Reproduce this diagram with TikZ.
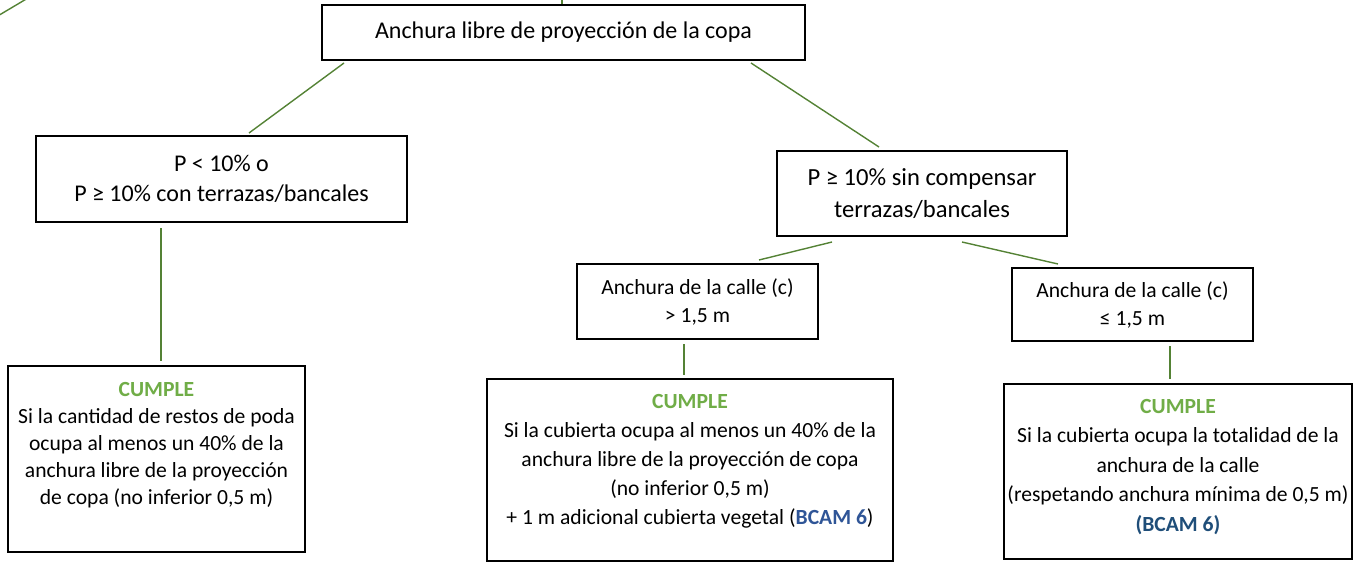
\documentclass[tikz,border=0pt]{standalone}
\usepackage{xcolor}
\usepackage{fontspec}
\setmainfont{Carlito}
\usetikzlibrary{calc}

\definecolor{ramaverde}{RGB}{84,130,53}
\definecolor{cumpleverde}{RGB}{112,173,71}
\definecolor{bcamazul}{RGB}{47,85,151}
\definecolor{bcamoscuro}{RGB}{31,78,121}

\newcommand{\cumple}{\textcolor{cumpleverde}{\textbf{CUMPLE}}}

\begin{document}
\begin{tikzpicture}[x=0.5pt, y=-0.5pt,
		caja/.style={draw=black, line width=1pt, fill=white, inner sep=0pt},
		textocaja/.style={align=center, inner sep=0pt},
		rama/.style={draw=ramaverde, line width=0.7pt}]
		\useasboundingbox (0,0) rectangle (1360,562);

		% Main question
		\node[caja, minimum width=241.5pt, minimum height=27.5pt,
			font=\fontsize{12}{15}\selectfont] (copa) at (563.5,32.5)
			{Anchura libre de proyección de la copa};

		% Slope conditions
		\node[caja, minimum width=185.5pt, minimum height=43pt, align=center,
			font=\fontsize{12}{15}\selectfont] (llano) at (221.5,179)
			{P < 10\% o\\P ≥ 10\% con terrazas/bancales};
		\node[caja, minimum width=145pt, minimum height=42.5pt, align=center,
			font=\fontsize{12.3}{16}\selectfont] (pendiente) at (922,193.5)
			{P ≥ 10\% sin compensar\\terrazas/bancales};

		% Street width
		\node[caja, minimum width=120.5pt, minimum height=37.5pt, align=center,
			font=\fontsize{10.8}{14}\selectfont] (anchacalle) at (697.5,301.5)
			{Anchura de la calle (c)\\> 1,5 m};
		\node[caja, minimum width=120.5pt, minimum height=36.5pt, align=center,
			font=\fontsize{10.8}{14}\selectfont] (estrechacalle) at (1132.5,304.5)
			{Anchura de la calle (c)\\≤ 1,5 m};

		% Results
		\node[caja, minimum width=148.5pt, minimum height=93pt] (poda) at (156.5,459) {};
		\node[textocaja, anchor=north, font=\fontsize{10.8}{13.5}\selectfont]
			(podatxt) at ($(poda.north)+(0,17)$)
			{\cumple\\Si la cantidad de restos de poda\\ocupa al menos un 40\% de la\\anchura libre de la proyección\\de copa (no inferior 0,5 m)};
		\node[caja, minimum width=203pt, minimum height=91pt] (cubierta) at (690,470) {};
		\node[textocaja, anchor=north, font=\fontsize{10.8}{14.5}\selectfont]
			(cubiertatxt) at ($(cubierta.north)+(0,16)$)
			{\cumple\\Si la cubierta ocupa al menos un 40\% de la\\anchura libre de la proyección de copa\\(no inferior 0,5 m)\\+ 1 m adicional cubierta vegetal (\textcolor{bcamazul}{\textbf{BCAM 6}})};
		\node[caja, minimum width=174pt, minimum height=87.5pt] (total) at (1178,471.5) {};
		\node[textocaja, anchor=north, font=\fontsize{10.8}{14.7}\selectfont]
			(totaltxt) at ($(total.north)+(0,16)$)
			{\cumple\\Si la cubierta ocupa la totalidad de la\\anchura de la calle\\(respetando anchura mínima de 0,5 m)\\\textcolor{bcamoscuro}{\textbf{(BCAM 6)}}};

		% Branches
		\coordinate (entrada) at (562,-2);
		\coordinate (sueltoa) at (-4,17);
		\coordinate (sueltob) at (28,-2);
		\draw[rama] (entrada) -- (entrada |- copa.north);
		\draw[rama] (sueltoa) -- (sueltob);
		\draw[rama] ($(copa.south west)+(23,2)$) -- ($(llano.north west)+(214,-2)$);
		\draw[rama] ($(copa.south east)+(-55,2)$) -- ($(pendiente.north west)+(103,-3)$);
		\draw[rama] ($(llano.south west)+(126,5)$) -- ($(poda.north west)+(154,-4)$);
		\draw[rama] ($(pendiente.south west)+(56,5)$) -- ($(anchacalle.north west)+(183,-3)$);
		\draw[rama] ($(pendiente.south west)+(186,5)$) -- ($(estrechacalle.north west)+(47,-3)$);
		\draw[rama] ($(anchacalle.south west)+(108,4)$) -- ($(cubierta.north west)+(198,-3)$);
		\draw[rama] ($(estrechacalle.south west)+(159,4)$) -- ($(total.north west)+(167,-4)$);
	\end{tikzpicture}
\end{document}
